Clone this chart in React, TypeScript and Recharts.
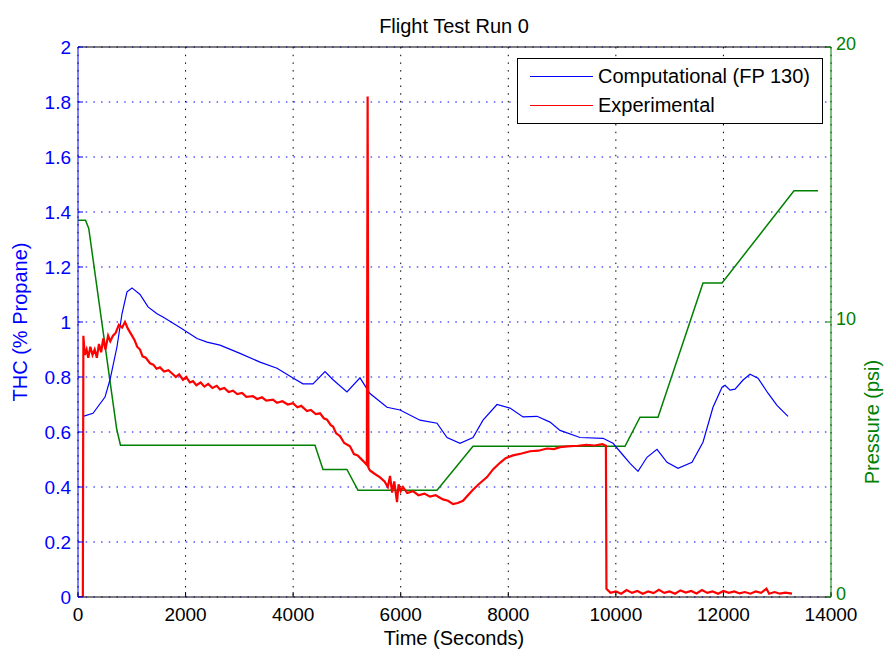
import React from 'react';
import { ComposedChart, Line, XAxis, YAxis, CartesianGrid } from 'recharts';

// Computational (FP 130) - THC, % propane
const compTime = [
  93, 279, 502, 595, 725, 818, 911, 1004, 1153, 1302, 1469, 1580, 1897, 2213, 2399, 2640, 3012, 3384,
  3700, 3997, 4183, 4369, 4592, 4742, 5001, 5243, 5429, 5745, 5987, 6359, 6675, 6861, 7103, 7344, 7530,
  7790, 8032, 8274, 8534, 8776, 8962, 9334, 9761, 9947, 10115, 10264, 10412, 10579, 10765, 10951, 11156,
  11416, 11620, 11806, 11974, 12030, 12123, 12216, 12365, 12494, 12643, 12829, 12996, 13201,
];
const compTHC = [
  0.657, 0.668, 0.727, 0.79, 0.91, 1.03, 1.11, 1.124, 1.1, 1.055, 1.03, 1.018, 0.98, 0.94, 0.927, 0.916,
  0.886, 0.854, 0.832, 0.796, 0.775, 0.775, 0.82, 0.79, 0.746, 0.797, 0.74, 0.69, 0.68, 0.643, 0.632, 0.58,
  0.559, 0.58, 0.643, 0.7, 0.687, 0.655, 0.657, 0.636, 0.606, 0.58, 0.577, 0.559, 0.52, 0.486, 0.457, 0.508,
  0.537, 0.49, 0.468, 0.49, 0.563, 0.69, 0.763, 0.77, 0.752, 0.756, 0.789, 0.81, 0.796, 0.741, 0.697, 0.657,
];

// Experimental - THC, % propane
const expTime = [
  0, 90, 100, 125, 160, 190, 230, 270, 310, 350, 390, 430, 470, 510, 560, 600, 650, 700, 760, 820, 874,
  930, 990, 1050, 1100, 1153, 1200, 1260, 1339, 1400, 1460, 1525, 1600, 1680, 1766, 1820, 1880, 1952, 2010,
  2080, 2138, 2200, 2280, 2350, 2420, 2500, 2580, 2640, 2720, 2800, 2882, 2960, 3050, 3130, 3254, 3330,
  3420, 3500, 3625, 3700, 3800, 3900, 3997, 4080, 4150, 4258, 4330, 4420, 4500, 4570, 4630, 4700, 4742,
  4800, 4871, 4950, 5057, 5130, 5200, 5299, 5370, 5385, 5400, 5429, 5500, 5615, 5700, 5760, 5801, 5840,
  5880, 5931, 5960, 6000, 6043, 6120, 6229, 6330, 6440, 6545, 6650, 6786, 6880, 6972, 7060, 7158, 7250,
  7344, 7450, 7605, 7720, 7846, 7950, 8088, 8250, 8404, 8560, 8720, 8850, 8962, 9100, 9300, 9450, 9600,
  9750, 9815, 9825, 9900, 10000, 10100, 10200, 10300, 10400, 10500, 10600, 10700, 10800, 10900, 11000,
  11100, 11200, 11300, 11400, 11500, 11600, 11700, 11800, 11900, 12000, 12100, 12200, 12300, 12400, 12500,
  12600, 12700, 12800, 12850, 12950, 13050, 13150, 13275,
];
const expTHC = [
  0, 0, 0.95, 0.88, 0.9, 0.87, 0.91, 0.88, 0.9, 0.87, 0.92, 0.89, 0.94, 0.9, 0.95, 0.93, 0.95, 0.96, 0.99,
  0.98, 1.0, 0.975, 0.955, 0.935, 0.91, 0.9, 0.875, 0.87, 0.85, 0.845, 0.83, 0.835, 0.82, 0.825, 0.81, 0.8,
  0.81, 0.79, 0.8, 0.78, 0.785, 0.77, 0.78, 0.765, 0.775, 0.76, 0.768, 0.755, 0.76, 0.745, 0.75, 0.738,
  0.742, 0.728, 0.73, 0.72, 0.726, 0.714, 0.718, 0.706, 0.712, 0.7, 0.705, 0.69, 0.695, 0.676, 0.68, 0.665,
  0.668, 0.65, 0.645, 0.625, 0.62, 0.595, 0.585, 0.56, 0.548, 0.52, 0.515, 0.495, 0.48, 1.82, 0.47, 0.46,
  0.45, 0.435, 0.42, 0.4, 0.44, 0.38, 0.42, 0.345, 0.41, 0.385, 0.4, 0.378, 0.385, 0.37, 0.376, 0.365, 0.37,
  0.355, 0.35, 0.338, 0.342, 0.35, 0.37, 0.39, 0.41, 0.436, 0.465, 0.488, 0.505, 0.515, 0.522, 0.53, 0.532,
  0.54, 0.538, 0.545, 0.548, 0.55, 0.553, 0.551, 0.556, 0.55, 0.03, 0.015, 0.02, 0.012, 0.025, 0.015, 0.022,
  0.012, 0.02, 0.014, 0.026, 0.015, 0.02, 0.012, 0.024, 0.016, 0.022, 0.013, 0.025, 0.015, 0.02, 0.012,
  0.022, 0.015, 0.02, 0.013, 0.018, 0.012, 0.02, 0.015, 0.03, 0.012, 0.018, 0.012, 0.016, 0.012,
];

// Pressure, psi
const pressTime = [0, 140, 200, 720, 790, 4406, 4555, 5000, 5206, 6675, 7344, 10170, 10449, 10784, 11620, 11974, 13312, 13759];
const pressPsi = [13.7, 13.7, 13.4, 6.1, 5.52, 5.52, 4.64, 4.64, 3.88, 3.88, 5.48, 5.48, 6.54, 6.54, 11.42, 11.42, 14.77, 14.77];

const timeTicks = [0, 2000, 4000, 6000, 8000, 10000, 12000, 14000];
const thcTicks = [0, 0.2, 0.4, 0.6, 0.8, 1, 1.2, 1.4, 1.6, 1.8, 2];
const psiTicks = [0, 10, 20];

const zip = (t: number[], v: number[]) => t.map((x, i) => ({ t: x, v: v[i] }));
const compData = zip(compTime, compTHC);
const expData = zip(expTime, expTHC);
const pressData = zip(pressTime, pressPsi);

const FONT = '"Liberation Sans", Arial, sans-serif';
const BLUE = '#0000ff';
const RED = '#ff0000';
const GREEN = '#008000';

export default function App() {
  return (
    <div style={{ position: 'absolute', left: 0, top: 0, width: 885, height: 651, background: '#fff', fontFamily: FONT }}>
      <ComposedChart width={885} height={651} margin={{ top: 37, right: 14, bottom: 14, left: 18 }}>
        <CartesianGrid xAxisId="x" yAxisId="thc" vertical={false} stroke={BLUE} strokeDasharray="1.5 6.2" />
        <CartesianGrid xAxisId="x" yAxisId="thc" horizontal={false} stroke="#000" strokeDasharray="1.5 6.2" />
        <XAxis
          xAxisId="x" dataKey="t" type="number" domain={[0, 14000]} ticks={timeTicks} height={40}
          tickSize={-5} tickMargin={16} axisLine={{ stroke: '#000' }} tickLine={{ stroke: '#000' }}
          tick={{ fill: '#000', fontSize: 19, fontFamily: FONT }} allowDataOverflow
        />
        <XAxis
          xAxisId="top" orientation="top" dataKey="t" type="number" domain={[0, 14000]} ticks={timeTicks}
          height={10} tickSize={-5} tick={false} axisLine={{ stroke: '#000' }} tickLine={{ stroke: '#000' }}
        />
        <YAxis
          yAxisId="thc" type="number" domain={[0, 2]} ticks={thcTicks} width={60} tickSize={-5} tickMargin={12}
          axisLine={{ stroke: BLUE }} tickLine={{ stroke: BLUE }}
          tick={{ fill: BLUE, fontSize: 19, fontFamily: FONT }} allowDataOverflow
        />
        <YAxis
          yAxisId="psi" orientation="right" type="number" domain={[0, 20]} ticks={psiTicks} width={40}
          tickSize={-5} tickMargin={10} axisLine={{ stroke: GREEN }} tickLine={{ stroke: GREEN }}
          tick={{ fill: GREEN, fontSize: 18, fontFamily: FONT, dy: -3 }} allowDataOverflow
        />
        <Line
          xAxisId="x" yAxisId="psi" data={pressData} dataKey="v" type="linear" stroke={GREEN}
          strokeWidth={1.5} dot={false} isAnimationActive={false} name="Pressure"
        />
        <Line
          xAxisId="x" yAxisId="thc" data={compData} dataKey="v" type="linear" stroke={BLUE}
          strokeWidth={1.2} dot={false} isAnimationActive={false} name="Computational (FP 130)"
        />
        <Line
          xAxisId="x" yAxisId="thc" data={expData} dataKey="v" type="linear" stroke={RED}
          strokeWidth={2.2} dot={false} isAnimationActive={false} name="Experimental"
        />
      </ComposedChart>

      {/* title + axis labels */}
      <div style={{ position: 'absolute', left: 254, top: 16, width: 400, textAlign: 'center', fontSize: 20, lineHeight: '20px' }}>
        Flight Test Run 0
      </div>
      <div style={{ position: 'absolute', left: 254, top: 628, width: 400, textAlign: 'center', fontSize: 20, lineHeight: '20px' }}>
        Time (Seconds)
      </div>
      <div
        style={{
          position: 'absolute', left: 20 - 150, top: 322 - 10, width: 300, height: 20, textAlign: 'center',
          fontSize: 20, lineHeight: '20px', color: BLUE, transform: 'rotate(-90deg)',
        }}
      >
        THC (% Propane)
      </div>
      <div
        style={{
          position: 'absolute', left: 872 - 150, top: 422 - 10, width: 300, height: 20, textAlign: 'center',
          fontSize: 20, lineHeight: '20px', color: GREEN, transform: 'rotate(-90deg)',
        }}
      >
        Pressure (psi)
      </div>

      {/* legend */}
      <div style={{ position: 'absolute', left: 517, top: 58, width: 304, height: 64, border: '1px solid #000', background: '#fff', fontSize: 20, lineHeight: '20px' }}>
        <div style={{ position: 'absolute', left: 12, top: 17, width: 63, borderTop: `1px solid ${BLUE}` }} />
        <div style={{ position: 'absolute', left: 80, top: 7 }}>Computational (FP 130)</div>
        <div style={{ position: 'absolute', left: 12, top: 46, width: 63, borderTop: `1px solid ${RED}` }} />
        <div style={{ position: 'absolute', left: 80, top: 36 }}>Experimental</div>
      </div>
    </div>
  );
}
